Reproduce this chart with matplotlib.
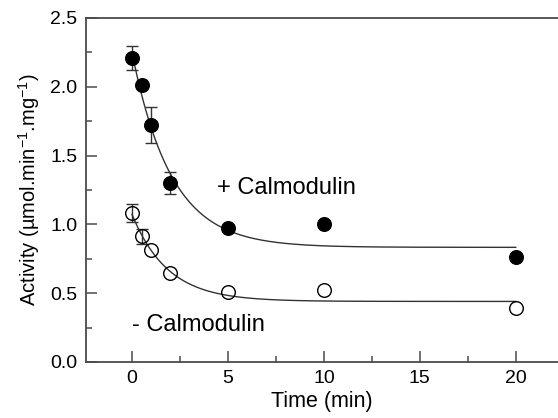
import numpy as np
import matplotlib
matplotlib.use("Agg")
import matplotlib.pyplot as plt
from matplotlib.ticker import MultipleLocator, FormatStrFormatter

plt.rcParams['font.family'] = ['Liberation Sans', 'DejaVu Sans']
plt.rcParams['mathtext.fontset'] = 'custom'
plt.rcParams['mathtext.rm'] = 'Liberation Sans'
plt.rcParams['mathtext.it'] = 'Liberation Sans:italic'
plt.rcParams['mathtext.default'] = 'regular'

# data
time = np.array([0, 0.5, 1, 2, 5, 10, 20])
with_cam = np.array([2.21, 2.01, 1.72, 1.30, 0.975, 1.00, 0.76])
with_cam_err = np.array([0.085, 0.0, 0.13, 0.08, 0.0, 0.0, 0.0])
without_cam = np.array([1.08, 0.915, 0.815, 0.645, 0.505, 0.52, 0.39])
without_cam_err = np.array([0.065, 0.055, 0.0, 0.0, 0.0, 0.0, 0.0])
# the 10 min point seems to count less in the fitted curves
fit_weight = np.array([1, 1, 1, 1, 1, 0.5, 1])


def fit_decay(x, y, w):
    # y = c + a*exp(-k x), grid over k, weighted linear least squares for a, c
    sw = np.sqrt(w)
    best = None
    for k in np.linspace(0.05, 3, 3000):
        M = np.column_stack([np.exp(-k * x), np.ones_like(x)])
        coef = np.linalg.lstsq(M * sw[:, None], y * sw, rcond=None)[0]
        err = np.sum(w * (M @ coef - y) ** 2)
        if best is None or err < best[0]:
            best = (err, k, coef)
    _, k, (a, c) = best
    return lambda t: c + a * np.exp(-k * t)


fig = plt.figure(figsize=(5.58, 4.18), dpi=100)
ax = fig.add_axes([0.154, 0.134, 0.846, 0.823])

tt = np.linspace(0, 20, 400)
line_col = '#333333'
for y, e, face in [(with_cam, with_cam_err, 'black'), (without_cam, without_cam_err, 'none')]:
    f = fit_decay(time, y, fit_weight)
    ax.plot(tt, f(tt), color=line_col, lw=1.0, zorder=2)
    m = e > 0
    ax.errorbar(time[m], y[m], yerr=e[m], fmt='none', ecolor=line_col,
                elinewidth=1.0, capsize=4.5, capthick=1.0, zorder=3)
    ax.plot(time, y, 'o', ms=9.8, mfc=face, mec='black', mew=1.0, zorder=4)

ax.text(4.45, 1.265, '+ Calmodulin', fontsize=17, va='center', ha='left')
ax.text(0.0, 0.27, '- Calmodulin', fontsize=17, va='center', ha='left')

ax.set_xlim(-2.4, 22.2)
ax.set_ylim(0, 2.5)
ax.xaxis.set_major_locator(MultipleLocator(5))
ax.xaxis.set_minor_locator(MultipleLocator(2.5))
ax.yaxis.set_major_locator(MultipleLocator(0.5))
ax.yaxis.set_minor_locator(MultipleLocator(0.25))
ax.yaxis.set_major_formatter(FormatStrFormatter('%.1f'))

spine_col = '#4a4a4a'
ax.spines['right'].set_visible(False)
for s in ['left', 'bottom', 'top']:
    ax.spines[s].set_color(spine_col)
    ax.spines[s].set_linewidth(1.3)

ax.tick_params(which='both', direction='in', color=spine_col, width=1.1,
               labelsize=14, top=False, right=False)
ax.tick_params(which='major', length=8, pad=6)
ax.tick_params(which='minor', length=4.5)

ax.set_xlabel('Time (min)', fontsize=15.5, labelpad=3)
ax.set_ylabel('Activity (µmol.min$^{-1}$.mg$^{-1}$)', fontsize=14.5, labelpad=6)

fig.savefig('out.png', dpi=100)
